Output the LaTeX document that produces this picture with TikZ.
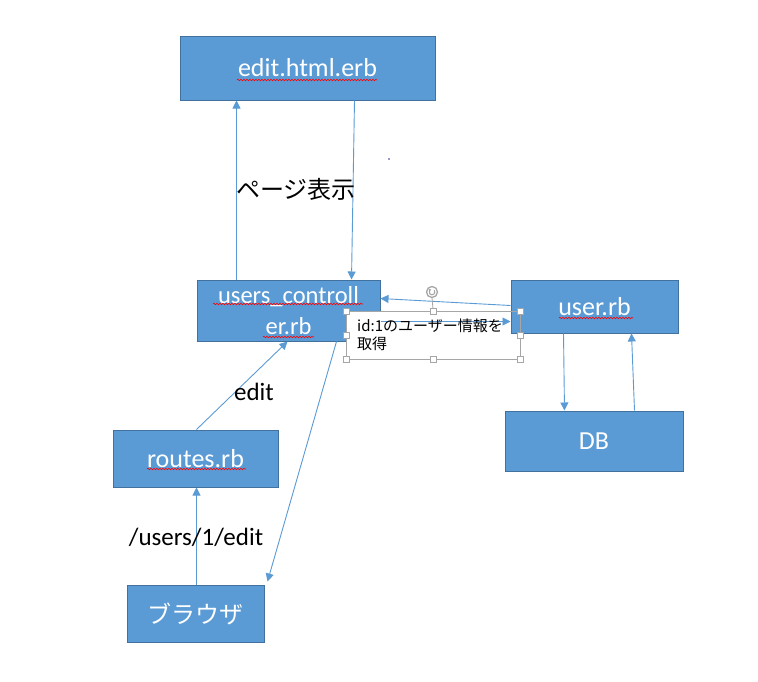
\documentclass[tikz,border=0pt]{standalone}
\usepackage{fontspec}
\setmainfont{Carlito}
\newfontfamily\jp{Noto Sans CJK JP}
\usetikzlibrary{arrows.meta,decorations.pathmorphing}
\definecolor{boxfill}{HTML}{5B9BD5}
\definecolor{boxline}{HTML}{41719C}
\definecolor{arrowc}{HTML}{5B9BD5}
\definecolor{selgray}{HTML}{A6A6A6}
\definecolor{dotc}{HTML}{2F2F9F}
\tikzset{
  box/.style={draw=boxline, fill=boxfill, line width=1pt, text=white,
    font=\fontsize{26}{30}\selectfont, inner sep=0pt, align=center},
  arr/.style={draw=arrowc, line width=0.9pt, -{Triangle[width=8pt,length=8pt]}},
  lbl/.style={font=\fontsize{25}{30}\selectfont, text=black, inner sep=0pt},
  handle/.style={draw=selgray, fill=white, line width=0.8pt, minimum size=6pt, inner sep=0pt},
  squig/.style={draw=red, line width=0.6pt, decorate,
    decoration={snake, amplitude=0.8pt, segment length=3pt}},
}
\begin{document}
\begin{tikzpicture}[x=1pt,y=-1pt]
\useasboundingbox[fill=white] (0,0) rectangle (758,681);

% boxes
\node[box, minimum width=255pt, minimum height=64pt] (edit) at (307.5,68) {edit.html.erb};
\node[box, minimum width=183pt, minimum height=61pt, font=\fontsize{24.5}{32}\selectfont] (ctrl) at (288.5,310.5) {users\_controll\\[-1pt]er.rb};
% text box background (covers part of controller box)
\node[fill=white, inner sep=0pt, minimum width=174pt, minimum height=48pt, anchor=north west] (tb) at (346,311) {};
\node[box, minimum width=167pt, minimum height=53pt] (user) at (594.5,306.5) {user.rb};
\node[box, minimum width=178pt, minimum height=60pt] (db) at (594,441) {DB};
\node[box, minimum width=165pt, minimum height=57pt] (routes) at (195.5,458.5) {routes.rb};
\node[box, minimum width=137pt, minimum height=57pt, font=\jp\fontsize{24}{28}\selectfont] (browser) at (195.5,613.5) {ブラウザ};

% connectors
\draw[arr] ([xshift=40pt]ctrl.north west) -- ([xshift=57pt]edit.south west);
\draw[arr] ([xshift=175pt]edit.south west) -- ([xshift=155pt]ctrl.north west);
\draw[arr] ([yshift=-26pt]user.north west) -- ([yshift=-19pt]ctrl.north east);
\draw[arr] ([yshift=-42pt]ctrl.north east) -- ([yshift=-42pt]user.north west);
\draw[arr] ([xshift=140pt]ctrl.south west) -- ([xshift=3pt,yshift=3pt]browser.north east);
\draw[arr] ([xshift=84pt]routes.north west) -- ([xshift=91pt]ctrl.south west);
\draw[arr] ([xshift=70pt]browser.north west) -- ([xshift=84pt]routes.south west);
\draw[arr] ([xshift=53pt]user.south west) -- ([xshift=60pt]db.north west);
\draw[arr] ([xshift=130pt]db.north west) -- ([xshift=121pt]user.south west);

% labels
\node[lbl, font=\jp\fontsize{24}{28}\selectfont] (page) at (296,189) {ページ表示};
\node[lbl] (editlbl) at (254,392) {edit};
\node[lbl] (url) at (196,537) {/users/1/edit};
\node[anchor=north west, inner sep=0pt, align=left, font=\jp\fontsize{15}{18}\selectfont] (tbtext) at (357,319) {id:1のユーザー情報を\\取得};

% tiny dot
\fill[dotc] (389,159) circle (0.8pt);

% selection frame and handles
\draw[selgray, line width=0.8pt] (tb.north west) rectangle (tb.south east);
\coordinate (rotbase) at (432,298);
\draw[selgray, line width=0.8pt] (rotbase) -- (tb.north);
\draw[selgray, line width=1.3pt] (432,292) circle (5.5pt);
\draw[selgray, line width=1.1pt, -{Stealth[length=2.5pt,width=3pt]}] (432,292) ++(-40:2.8) arc (-40:250:2.8);
\foreach \a in {north west,north,north east,west,east,south west,south,south east}
  \node[handle] at (tb.\a) {};

% spell-check underlines
\draw[squig] (237,80) -- (377,80);
\draw[squig] (213,304) -- (363,304);
\draw[squig] (263,337) -- (314,337);
\draw[squig] (559,318) -- (633,318);
\draw[squig] (147,469) -- (246,469);
\end{tikzpicture}
\end{document}
